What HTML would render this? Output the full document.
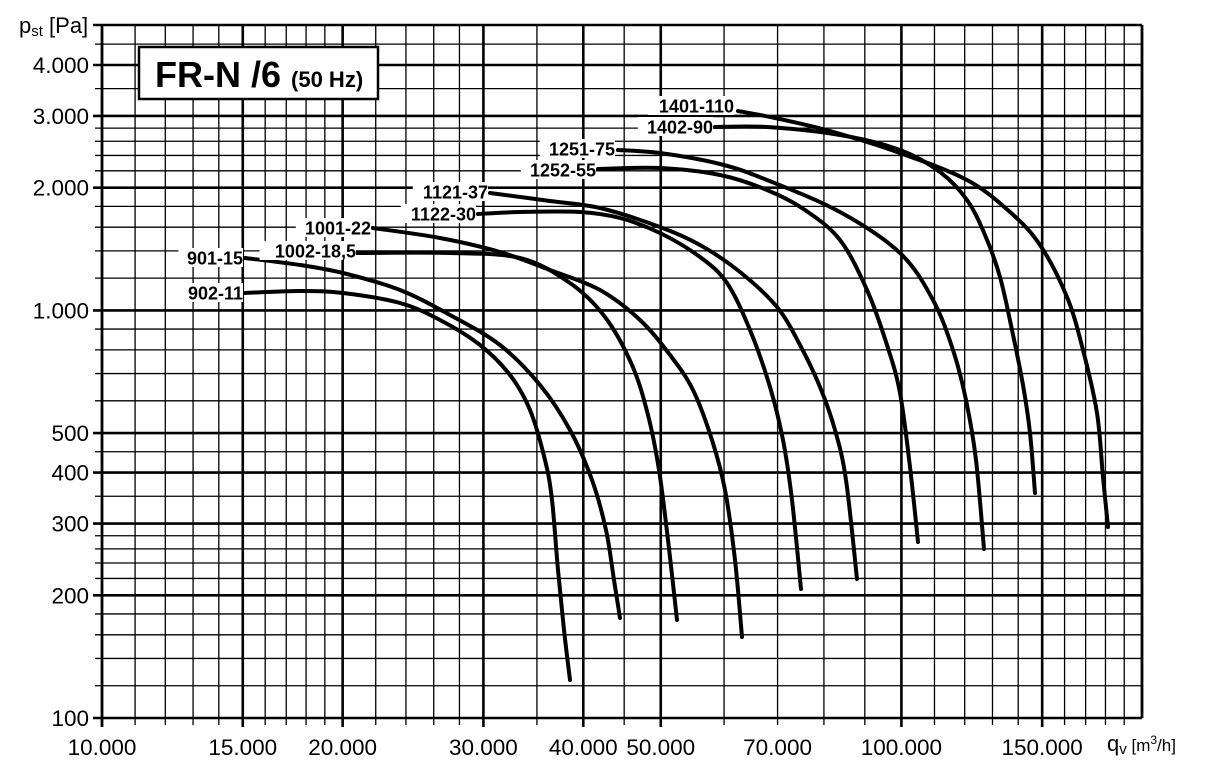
<!DOCTYPE html>
<html><head><meta charset="utf-8"><style>
html,body{margin:0;padding:0;background:#fff;}
svg{display:block;font-family:"Liberation Sans",Arial,sans-serif;}
</style></head><body>
<svg id="s" width="1209" height="773" viewBox="0 0 1209 773" xmlns="http://www.w3.org/2000/svg"></svg>
<script>
const s=document.getElementById('s');
const X=q=>102+799.4*Math.log10(q/10000);
const Y=p=>718-407.6*Math.log10(p/100);
let h='';
const L=(x1,y1,x2,y2,w)=>h+=`<line x1="${x1}" y1="${y1}" x2="${x2}" y2="${y2}" stroke="#000" stroke-width="${w}"/>`;
const xs=[11,12,13,14,16,17,18,19,22,24,26,28,35,45,60,70,80,90,110,120,130,140,160,170,180,190];
const xt=[15,20,30,40,50,100,150];
const T=25,B=718,Lf=102,R=1142;
xs.forEach(v=>{const x=X(v*1000);L(x,T,x,B+7,1.3);});
xt.forEach(v=>{const x=X(v*1000);L(x,T,x,B+9,2.6);});
const ys=[120,140,160,180,220,240,260,280,350,450,600,700,800,900,1200,1400,1600,1800,2200,2400,2600,2800,3500,4500];
const yt=[200,300,400,500,1000,2000,3000,4000];
ys.forEach(v=>{const y=Y(v);L(Lf-7,y,R,y,1.3);});
yt.forEach(v=>{const y=Y(v);L(Lf-9,y,R,y,2.6);});
L(Lf-9,T,R,T,2.6);L(Lf-9,B,R,B,2.6);L(Lf,T,Lf,B+9,2.8);L(R,T,R,B,2.8);
[[100,'100'],[200,'200'],[300,'300'],[400,'400'],[500,'500'],[1000,'1.000'],[2000,'2.000'],[3000,'3.000'],[4000,'4.000']].forEach(([v,t])=>{
h+=`<text x="89" y="${Y(v)+8}" font-size="22.5" text-anchor="end">${t}</text>`;});
[[10,'10.000'],[15,'15.000'],[20,'20.000'],[30,'30.000'],[40,'40.000'],[50,'50.000'],[70,'70.000'],[100,'100.000'],[150,'150.000']].forEach(([v,t])=>{
h+=`<text x="${X(v*1000)}" y="755" font-size="22.5" text-anchor="middle">${t}</text>`;});
h+=`<text x="19" y="33" font-size="22">p<tspan font-size="15" dy="3">st</tspan><tspan dy="-3"> [Pa]</tspan></text>`;
h+=`<text x="1107" y="751" font-size="22">q<tspan font-size="15" dy="3">v</tspan><tspan dy="-3" font-size="17"> [m</tspan><tspan font-size="12" dy="-7">3</tspan><tspan font-size="17" dy="7">/h]</tspan></text>`;
h+=`<rect x="139" y="47" width="239" height="52" fill="#fff" stroke="#000" stroke-width="2.5"/>`;
h+=`<text x="155" y="87" font-size="36" font-weight="bold">FR-N /6 <tspan font-size="22">(50 Hz)</tspan></text>`;
const C=[
['902-11',243,293,[[245,293],[300,291],[343,293],[400,303],[440,320],[480,345],[510,375],[530,410],[545,460],[552,500],[558,570],[564,630],[570,680]]],
['901-15',243,258,[[245,258],[300,265],[343,273],[400,290],[450,315],[500,345],[540,385],[570,430],[592,480],[606,530],[614,580],[620,618]]],
['1002-18,5',356,251,[[357,253],[450,253],[520,258],[570,283],[605,317],[632,365],[648,415],[659,470],[668,540],[677,620]]],
['1001-22',371,228,[[373,228],[440,238],[500,252],[550,270],[600,290],[640,320],[670,355],[693,390],[712,440],[725,490],[735,560],[742,637]]],
['1122-30',476,214,[[478,214],[520,212],[580,212],[620,218],[660,233],[700,257],[727,283],[750,330],[770,387],[783,440],[792,500],[801,589]]],
['1121-37',488,192,[[490,193],[550,201],[600,208],[660,227],[700,245],[740,272],[777,307],[800,345],[820,387],[835,430],[846,480],[857,579]]],
['1252-55',596,170,[[598,169],[660,168],[720,175],[767,190],[805,210],[840,240],[867,290],[887,345],[900,393],[910,467],[918,542]]],
['1251-75',615,149,[[618,150],[660,153],[720,164],[767,180],[840,212],[900,253],[933,300],[953,350],[966,400],[976,460],[984,549]]],
['1402-90',713,127,[[715,127],[767,127],[840,135],[900,150],[940,172],[967,200],[985,235],[1000,277],[1012,330],[1023,385],[1030,433],[1035,493]]],
['1401-110',734,106,[[738,111],[775,118],[830,131],[900,153],[967,180],[1010,212],[1040,245],[1067,297],[1083,350],[1097,413],[1103,477],[1108,527]]]
];
function path(p){let d=`M${p[0][0]},${p[0][1]}`;for(let i=0;i<p.length-1;i++){const p0=p[i-1]||p[i],p1=p[i],p2=p[i+1],p3=p[i+2]||p2;
d+=` C${p1[0]+(p2[0]-p0[0])/6},${p1[1]+(p2[1]-p0[1])/6} ${p2[0]-(p3[0]-p1[0])/6},${p2[1]-(p3[1]-p1[1])/6} ${p2[0]},${p2[1]}`;}return d;}
C.forEach(([n,lx,ly,p])=>{
h+=`<path d="${path(p)}" fill="none" stroke="#000" stroke-width="4" stroke-linecap="round" stroke-linejoin="round"/>`;});
C.forEach(([n,lx,ly,p])=>{
const w=n.length*10.6;
h+=`<rect x="${lx-w-1}" y="${ly-10}" width="${w+1}" height="19" fill="#fff"/>`;
h+=`<text x="${lx}" y="${ly+6.5}" font-size="18" font-weight="bold" text-anchor="end">${n}</text>`;});
s.innerHTML=h;
</script>
</body></html>
